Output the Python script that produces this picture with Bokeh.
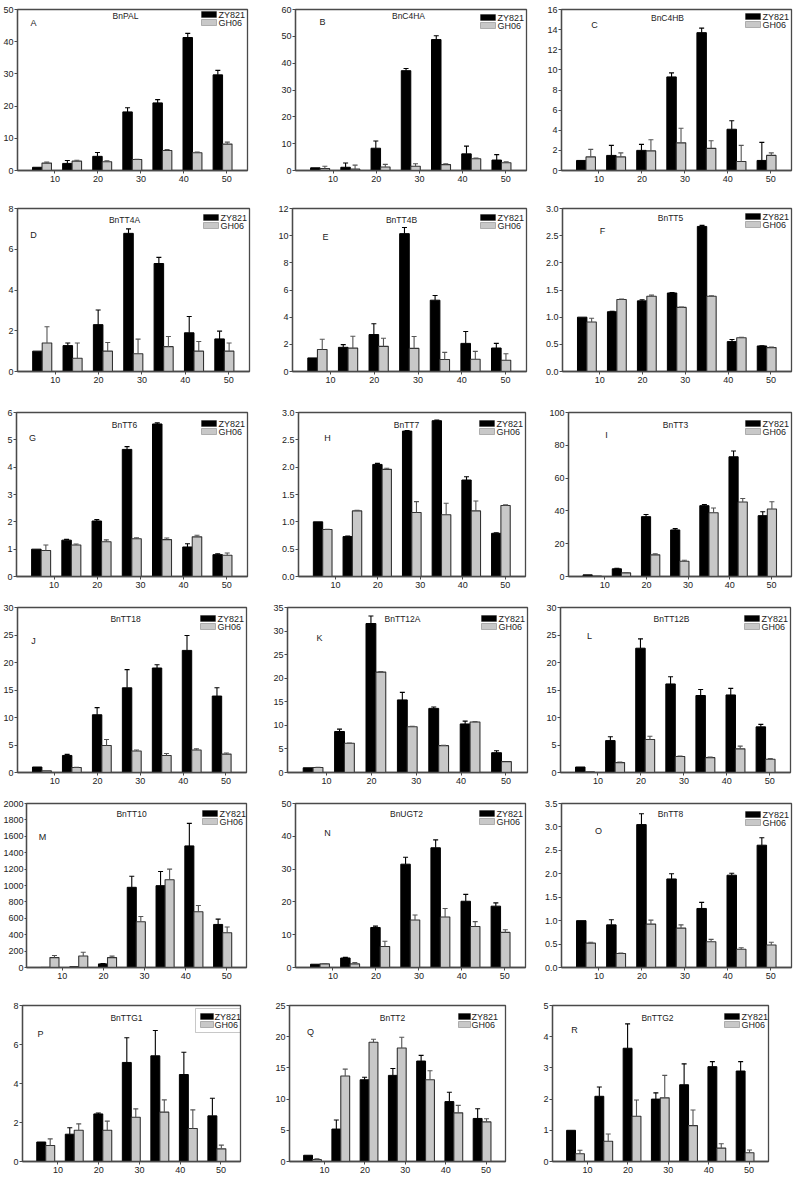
from bokeh.plotting import figure
from bokeh.layouts import column, row
from bokeh.models import (FixedTicker, NumeralTickFormatter, Label, BoxAnnotation,
                          Range1d, ColumnDataSource)
from bokeh.embed import file_html
from bokeh.resources import INLINE

# ---------------- data ----------------
days = [7, 14, 21, 28, 35, 42, 49]
x_ticks = [10, 20, 30, 40, 50]
series_names = ["ZY821", "GH06"]

A_zy = [1.0, 2.2, 4.4, 18.2, 21.0, 41.3, 29.7]
A_zy_err = [0, 0.9, 1.2, 1.3, 1.0, 1.3, 1.4]
A_gh = [2.3, 2.9, 2.7, 3.4, 6.2, 5.5, 8.2]
A_gh_err = [0.3, 0.3, 0.3, 0.1, 0.3, 0.2, 0.6]

B_zy = [1.0, 1.2, 8.3, 37.2, 48.8, 6.2, 3.9]
B_zy_err = [0, 1.6, 2.7, 0.8, 1.4, 2.9, 2.0]
B_gh = [0.7, 0.5, 1.3, 1.6, 2.2, 4.4, 2.9]
B_gh_err = [0.9, 1.5, 1.0, 0.9, 0.3, 0.2, 0.3]

C_zy = [1.0, 1.5, 2.0, 9.3, 13.7, 4.1, 1.0]
C_zy_err = [0, 1.0, 0.6, 0.4, 0.45, 0.85, 1.8]
C_gh = [1.35, 1.35, 1.95, 2.75, 2.2, 0.9, 1.5]
C_gh_err = [0.75, 0.4, 1.1, 1.45, 0.75, 1.6, 0.25]

D_zy = [1.0, 1.27, 2.3, 6.78, 5.3, 1.9, 1.6]
D_zy_err = [0, 0.13, 0.72, 0.22, 0.3, 0.8, 0.38]
D_gh = [1.4, 0.65, 1.0, 0.87, 1.22, 1.0, 1.0]
D_gh_err = [0.8, 0.75, 0.42, 0.72, 0.5, 0.47, 0.4]

E_zy = [1.0, 1.78, 2.72, 10.15, 5.25, 2.07, 1.73]
E_zy_err = [0, 0.2, 0.8, 0.45, 0.35, 0.88, 0.34]
E_gh = [1.62, 1.72, 1.85, 1.7, 0.88, 0.9, 0.83]
E_gh_err = [0.75, 0.88, 0.6, 0.88, 0.53, 0.58, 0.48]

F_zy = [1.0, 1.1, 1.3, 1.445, 2.67, 0.55, 0.47]
F_zy_err = [0, 0.01, 0.02, 0.01, 0.02, 0.04, 0.005]
F_gh = [0.91, 1.325, 1.385, 1.18, 1.385, 0.62, 0.44]
F_gh_err = [0.07, 0.01, 0.02, 0.005, 0.01, 0.01, 0.01]

G_zy = [1.0, 1.33, 2.03, 4.65, 5.58, 1.08, 0.8]
G_zy_err = [0, 0.03, 0.05, 0.1, 0.04, 0.12, 0.03]
G_gh = [0.95, 1.15, 1.27, 1.38, 1.35, 1.45, 0.78]
G_gh_err = [0.2, 0.04, 0.07, 0.04, 0.06, 0.06, 0.08]

H_zy = [1.0, 0.73, 2.05, 2.66, 2.85, 1.765, 0.79]
H_zy_err = [0, 0.01, 0.02, 0.01, 0.01, 0.06, 0.01]
H_gh = [0.86, 1.2, 1.96, 1.17, 1.13, 1.2, 1.3]
H_gh_err = [0.005, 0.01, 0.02, 0.2, 0.21, 0.18, 0.01]

I_zy = [1.0, 4.7, 36.5, 28.4, 43.2, 73.0, 37.1]
I_zy_err = [0, 0.3, 1.3, 0.8, 0.7, 3.5, 2.4]
I_gh = [0.3, 2.2, 13.2, 9.3, 38.9, 45.4, 41.2]
I_gh_err = [0, 0.2, 0.6, 0.6, 2.9, 2.2, 4.4]

J_zy = [1.0, 3.1, 10.5, 15.4, 19.0, 22.2, 13.9]
J_zy_err = [0, 0.2, 1.3, 3.3, 0.6, 2.7, 1.5]
J_gh = [0.3, 0.9, 4.9, 3.9, 3.1, 4.1, 3.35]
J_gh_err = [0, 0.05, 1.1, 0.2, 0.35, 0.2, 0.2]

K_zy = [1.0, 8.7, 31.6, 15.4, 13.6, 10.3, 4.2]
K_zy_err = [0, 0.5, 1.6, 1.6, 0.3, 0.6, 0.4]
K_gh = [1.05, 6.2, 21.3, 9.7, 5.7, 10.7, 2.3]
K_gh_err = [0.05, 0.05, 0.1, 0.1, 0.05, 0.1, 0]

L_zy = [1.0, 5.8, 22.6, 16.1, 14.0, 14.1, 8.3]
L_zy_err = [0, 0.7, 1.7, 1.3, 1.1, 1.2, 0.45]
L_gh = [0.15, 1.8, 6.0, 2.9, 2.7, 4.3, 2.4]
L_gh_err = [0, 0.1, 0.6, 0.1, 0.1, 0.5, 0.15]

M_zy = [1, 8, 44, 978, 998, 1483, 525]
M_zy_err = [0, 0, 3, 135, 172, 275, 65]
M_gh = [121, 141, 121, 558, 1071, 679, 424]
M_gh_err = [25, 45, 18, 64, 129, 77, 69]

N_zy = [1.0, 2.9, 12.2, 31.5, 36.5, 20.2, 18.7]
N_zy_err = [0, 0.2, 0.4, 2.1, 2.4, 2.1, 1.0]
N_gh = [1.1, 1.1, 6.4, 14.5, 15.4, 12.5, 10.7]
N_gh_err = [0.1, 0.4, 1.6, 1.5, 2.6, 1.5, 0.8]

O_zy = [1.0, 0.91, 3.05, 1.89, 1.26, 1.97, 2.61]
O_zy_err = [0, 0.11, 0.23, 0.11, 0.13, 0.04, 0.16]
O_gh = [0.52, 0.30, 0.925, 0.84, 0.55, 0.39, 0.48]
O_gh_err = [0.02, 0.01, 0.085, 0.07, 0.05, 0.03, 0.06]

P_zy = [1.0, 1.4, 2.44, 5.08, 5.42, 4.46, 2.34]
P_zy_err = [0, 0.33, 0.05, 1.27, 1.3, 1.14, 0.9]
P_gh = [0.82, 1.6, 1.6, 2.27, 2.53, 1.69, 0.65]
P_gh_err = [0.34, 0.33, 0.47, 0.43, 0.63, 0.96, 0.19]

Q_zy = [1.0, 5.2, 13.1, 13.8, 16.1, 9.6, 6.9]
Q_zy_err = [0, 1.45, 0.4, 1.1, 0.9, 1.5, 1.55]
Q_gh = [0.3, 13.7, 19.1, 18.2, 13.1, 7.8, 6.35]
Q_gh_err = [0.15, 1.1, 0.5, 1.7, 1.45, 1.2, 0.5]

R_zy = [1.0, 2.09, 3.63, 2.0, 2.46, 3.04, 2.9]
R_zy_err = [0, 0.3, 0.78, 0.2, 0.67, 0.16, 0.3]
R_gh = [0.25, 0.65, 1.45, 2.04, 1.15, 0.43, 0.28]
R_gh_err = [0.11, 0.23, 0.52, 0.72, 0.5, 0.14, 0.09]

letters = list("ABCDEFGHIJKLMNOPQR")
genes = ["BnPAL", "BnC4HA", "BnC4HB", "BnTT4A", "BnTT4B", "BnTT5",
         "BnTT6", "BnTT7", "BnTT3", "BnTT18", "BnTT12A", "BnTT12B",
         "BnTT10", "BnUGT2", "BnTT8", "BnTTG1", "BnTT2", "BnTTG2"]
y_max = [50, 60, 16, 8, 12, 3.0, 6, 3.0, 100, 30, 35, 30, 2000, 50, 3.5, 8, 25, 5]
y_step = [10, 10, 2, 2, 2, 0.5, 1, 0.5, 20, 5, 5, 5, 200, 10, 0.5, 2, 5, 1]

series = {
    "A": (A_zy, A_zy_err, A_gh, A_gh_err), "B": (B_zy, B_zy_err, B_gh, B_gh_err),
    "C": (C_zy, C_zy_err, C_gh, C_gh_err), "D": (D_zy, D_zy_err, D_gh, D_gh_err),
    "E": (E_zy, E_zy_err, E_gh, E_gh_err), "F": (F_zy, F_zy_err, F_gh, F_gh_err),
    "G": (G_zy, G_zy_err, G_gh, G_gh_err), "H": (H_zy, H_zy_err, H_gh, H_gh_err),
    "I": (I_zy, I_zy_err, I_gh, I_gh_err), "J": (J_zy, J_zy_err, J_gh, J_gh_err),
    "K": (K_zy, K_zy_err, K_gh, K_gh_err), "L": (L_zy, L_zy_err, L_gh, L_gh_err),
    "M": (M_zy, M_zy_err, M_gh, M_gh_err), "N": (N_zy, N_zy_err, N_gh, N_gh_err),
    "O": (O_zy, O_zy_err, O_gh, O_gh_err), "P": (P_zy, P_zy_err, P_gh, P_gh_err),
    "Q": (Q_zy, Q_zy_err, Q_gh, Q_gh_err), "R": (R_zy, R_zy_err, R_gh, R_gh_err),
}

# ---------------- layout (reference pixel coordinates) ----------------
FONT = "Liberation Sans"
col_b = [0, 268, 540, 794]
row_b = [0, 192, 392, 594, 792, 985, 1177]
frames = {  # l, t, r, b
    "A": (17, 5, 247, 172), "B": (295, 9, 526, 173), "C": (561, 5, 791, 170),
    "D": (17, 208, 249, 373), "E": (292, 208, 526, 373), "F": (562, 205, 791, 371),
    "G": (16, 412, 247, 576), "H": (298, 412, 525, 576), "I": (568, 412, 791, 576),
    "J": (17, 607, 246, 772), "K": (287, 607, 527, 772), "L": (560, 607, 790, 772),
    "M": (24, 802, 246, 967), "N": (295, 802, 525, 967), "O": (561, 803, 791, 967),
    "P": (22, 1005, 240, 1161), "Q": (289, 1005, 505, 1161), "R": (550, 1005, 768, 1161),
}
title_pos = {"A": (108, 12), "B": (113, 9), "C": (106, 12), "D": (107, 13), "E": (109, 13),
             "F": (108, 12), "G": (108, 12), "H": (108, 12), "I": (107, 12), "J": (108, 11),
             "K": (115, 11), "L": (111, 11), "M": (105, 11), "N": (111, 11), "O": (109, 10),
             "P": (104, 12), "Q": (103, 12), "R": (105, 12)}
letter_pos = {"A": (16, 19), "B": (27, 15), "C": (33, 19), "D": (16, 28), "E": (33, 30),
              "F": (40, 25), "G": (16, 25), "H": (29, 25), "I": (38, 22), "J": (16, 33),
              "K": (32, 30), "L": (29, 28), "M": (16, 34), "N": (32, 30), "O": (37, 27),
              "P": (18, 28), "Q": (21, 26), "R": (22, 24)}

BW = 2.2
GREY = "#c8c8c8"
AX = "#4a4a4a"


def make_panel(idx):
    key = letters[idx]
    r, c = idx // 3, idx % 3
    l, t, rr, b = frames[key]
    x0, x1 = col_b[c], col_b[c + 1]
    y0, y1 = row_b[r], row_b[r + 1]
    W, H = x1 - x0, y1 - y0
    bl, br = l - x0, x1 - rr
    bt, bb = t - y0, y1 - b
    fw, fh = W - bl - br, H - bt - bb

    p = figure(width=W, height=H, min_border_left=bl, min_border_right=br,
               min_border_top=bt, min_border_bottom=bb,
               x_range=Range1d(1.3, 54.8), y_range=Range1d(0, y_max[idx]),
               output_backend="svg", toolbar_location=None)
    p.xgrid.visible = False
    p.ygrid.visible = False
    p.outline_line_color = AX
    p.outline_line_width = 1.3
    p.outline_line_alpha = 1
    for ax in (p.xaxis[0], p.yaxis[0]):
        ax.axis_line_color = AX
        ax.axis_line_width = 1.3
        ax.major_tick_line_color = AX
        ax.major_tick_in = 0
        ax.major_tick_out = 3
        ax.minor_tick_line_color = None
        ax.major_label_text_font = FONT
        ax.major_label_text_font_size = "9px"
        ax.major_label_text_color = "#222222"
        ax.major_label_standoff = 2
    p.yaxis.major_label_standoff = 1
    if key == "M":
        p.yaxis.major_tick_out = 2
    p.xaxis.ticker = FixedTicker(ticks=x_ticks)
    p.xaxis.formatter = NumeralTickFormatter(format="0")
    n = int(round(y_max[idx] / y_step[idx]))
    p.yaxis.ticker = FixedTicker(ticks=[round(i * y_step[idx], 3) for i in range(n + 1)])
    p.yaxis.formatter = NumeralTickFormatter(format="0.0" if y_step[idx] < 1 else "0")

    zy, zy_e, gh, gh_e = series[key]
    xs_z = [d - BW / 2 for d in days]
    xs_g = [d + BW / 2 for d in days]
    p.vbar(x=xs_z, top=zy, width=BW, bottom=0, fill_color="black", line_color="black",
           line_width=1)
    p.vbar(x=xs_g, top=gh, width=BW, bottom=0, fill_color=GREY, line_color="#333333",
           line_width=1.1)
    for xs, ys, es, col in ((xs_z, zy, zy_e, "black"), (xs_g, gh, gh_e, "#555555")):
        ex = [x for x, e in zip(xs, es) if e > 0]
        ey0 = [y for y, e in zip(ys, es) if e > 0]
        ey1 = [y + e for y, e in zip(ys, es) if e > 0]
        if ex:
            src = ColumnDataSource(dict(x=ex, y0=ey0, y1=ey1))
            p.segment(x0="x", y0="y0", x1="x", y1="y1", source=src, line_color=col,
                      line_width=1.1)
            p.scatter(x="x", y="y1", source=src, marker="dash", size=5, line_color=col,
                      line_width=1.1)

    # title and letter
    tx, ty = title_pos[key]
    p.add_layout(Label(x=tx, y=fh - ty, x_units="screen", y_units="screen",
                       text=genes[idx], text_font=FONT, text_font_size="8.5px",
                       text_align="center", text_baseline="middle", text_color="#222222"))
    lx, ly = letter_pos[key]
    p.add_layout(Label(x=lx, y=fh - ly, x_units="screen", y_units="screen",
                       text=key, text_font=FONT, text_font_size="9px",
                       text_align="center", text_baseline="middle", text_color="#222222"))

    # legend
    if key == "Q":
        sw_l, sw_r, tx_r = 47, 35, 34
    elif key == "P":
        sw_l, sw_r, tx_r = 40, 27, 26
    else:
        sw_l, sw_r, tx_r = 46, 31, 29
    rows_c = (11, 19)
    if key == "P":
        p.add_layout(BoxAnnotation(left=fw - 45, right=fw, top=fh - 3, bottom=fh - 27,
                                   left_units="screen", right_units="screen",
                                   top_units="screen", bottom_units="screen",
                                   fill_alpha=0, line_color=AX, line_width=1))
    for (fc, lc, name, rc) in (("black", "black", series_names[0], rows_c[0]),
                               (GREY, "#333333", series_names[1], rows_c[1])):
        p.add_layout(BoxAnnotation(left=fw - sw_l, right=fw - sw_r,
                                   top=fh - (rc - 3), bottom=fh - (rc + 3),
                                   left_units="screen", right_units="screen",
                                   top_units="screen", bottom_units="screen",
                                   fill_color=fc, fill_alpha=1, line_color=lc,
                                   line_width=1))
        p.add_layout(Label(x=fw - tx_r, y=fh - rc, x_units="screen",
                           y_units="screen", text=name, text_font=FONT,
                           text_font_size="9px", text_align="left",
                           text_baseline="middle", text_color="#222222"))
    return p


panels = [make_panel(i) for i in range(18)]
layout = column(*[row(*panels[3 * r:3 * r + 3]) for r in range(6)])

open("out.html", "w").write(file_html(layout, INLINE))
